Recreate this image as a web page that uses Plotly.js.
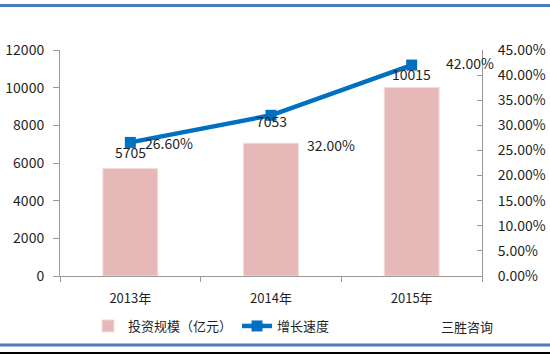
<!DOCTYPE html>
<html>
<head>
<meta charset="utf-8">
<script src="https://cdn.plot.ly/plotly-3.0.1.min.js"></script>
<style>html,body{margin:0;padding:0;background:#fff;}#chart{width:550px;height:354px;}</style>
</head>
<body>
<div id="chart"></div>
<script>
// ---- data ----
var categories = ['2013年', '2014年', '2015年'];
var investment = [5705, 7053, 10015];          // 投资规模（亿元）
var growth = [0.266, 0.32, 0.42];               // 增长速度
var investmentLabels = ['5705', '7053', '10015'];
var growthLabels = ['26.60%', '32.00%', '42.00%'];
var seriesNames = ['投资规模（亿元）', '增长速度'];
var sourceText = '三胜咨询';

// ---- layout constants (pixels) ----
var W = 550, H = 354;
var M = {l: 60, r: 68, t: 50, b: 78};
var plotW = W - M.l - M.r, plotH = H - M.t - M.b;
function px2paperX(px) { return (px - M.l) / plotW; }
function px2paperY(py) { return (H - M.b - py) / plotH; }

var FONT = '"Noto Sans CJK SC", "Liberation Sans", sans-serif';
var TXT = '#1f1f1f';
var BLUE = '#0070C0';
var PINK = '#E6B8B7';

// label offsets (styling)
var barLabelShift = [17, 22, 13];
var growthLabelShift = [[13, -1], [34, -30], [32, 2]];

var traces = [
  {
    type: 'bar', x: categories, y: investment, name: seriesNames[0],
    marker: {color: PINK, line: {color: '#F2DCDB', width: 1}},
    yaxis: 'y', hoverinfo: 'none'
  },
  {
    type: 'scatter', mode: 'lines+markers', x: categories, y: growth, name: seriesNames[1],
    line: {color: BLUE, width: 4.5},
    marker: {symbol: 'square', size: 11, color: BLUE},
    yaxis: 'y2', hoverinfo: 'none'
  }
];

var annotations = [];
categories.forEach(function (c, i) {
  annotations.push({
    x: c, y: investment[i], xref: 'x', yref: 'y', text: investmentLabels[i],
    showarrow: false, yshift: barLabelShift[i], xanchor: 'center', yanchor: 'middle',
    font: {family: FONT, size: 14, color: TXT}
  });
  annotations.push({
    x: c, y: growth[i], xref: 'x', yref: 'y2', text: growthLabels[i],
    showarrow: false, xshift: growthLabelShift[i][0], yshift: growthLabelShift[i][1],
    xanchor: 'left', yanchor: 'middle',
    font: {family: FONT, size: 14, color: TXT}
  });
});
annotations.push({
  x: px2paperX(467), y: px2paperY(326), xref: 'paper', yref: 'paper', text: sourceText,
  showarrow: false, xanchor: 'center', yanchor: 'middle',
  font: {family: FONT, size: 13, color: TXT}
});

var shapes = [
  {type: 'line', xref: 'paper', yref: 'paper', x0: px2paperX(0), x1: px2paperX(550),
   y0: px2paperY(5.5), y1: px2paperY(5.5), line: {color: '#4A7EBB', width: 3}},
  {type: 'line', xref: 'paper', yref: 'paper', x0: px2paperX(0), x1: px2paperX(550),
   y0: px2paperY(345), y1: px2paperY(345), line: {color: '#4A7EBB', width: 3}},
  {type: 'line', xref: 'paper', yref: 'paper', x0: px2paperX(0), x1: px2paperX(550),
   y0: px2paperY(353), y1: px2paperY(353), line: {color: '#000000', width: 2}}
];

var layout = {
  width: W, height: H,
  margin: M,
  paper_bgcolor: '#ffffff', plot_bgcolor: '#ffffff',
  font: {family: FONT, size: 14, color: TXT},
  showlegend: true,
  bargap: 0.61,
  legend: {
    orientation: 'h', x: px2paperX(88), y: px2paperY(326), xanchor: 'left', yanchor: 'middle',
    font: {family: FONT, size: 13, color: TXT}, bgcolor: 'rgba(0,0,0,0)', traceorder: 'normal'
  },
  xaxis: {
    type: 'category', range: [-0.5, 2.5], autorange: false, showgrid: false, zeroline: false,
    showline: true, linecolor: '#9a9a9a', linewidth: 1,
    ticks: 'outside', tickson: 'boundaries', ticklen: 5, tickcolor: '#9a9a9a',
    tickfont: {family: FONT, size: 13, color: TXT}, ticklabelstandoff: 10
  },
  yaxis: {
    range: [0, 12000], dtick: 2000, tickformat: 'd', showgrid: false, zeroline: false,
    showline: true, linecolor: '#9a9a9a', linewidth: 1,
    ticks: 'outside', ticklen: 6, tickcolor: '#9a9a9a',
    tickfont: {family: FONT, size: 14, color: TXT}, ticklabelstandoff: 6
  },
  yaxis2: {
    overlaying: 'y', side: 'right', range: [0, 0.45], dtick: 0.05, tickformat: '.2%',
    showgrid: false, zeroline: false,
    showline: true, linecolor: '#9a9a9a', linewidth: 1,
    ticks: 'inside', ticklen: 5, tickcolor: '#9a9a9a',
    tickfont: {family: FONT, size: 14, color: TXT}, ticklabelstandoff: 12
  },
  annotations: annotations,
  shapes: shapes
};

Plotly.newPlot('chart', traces, layout, {staticPlot: true, displayModeBar: false});
</script>
</body>
</html>
